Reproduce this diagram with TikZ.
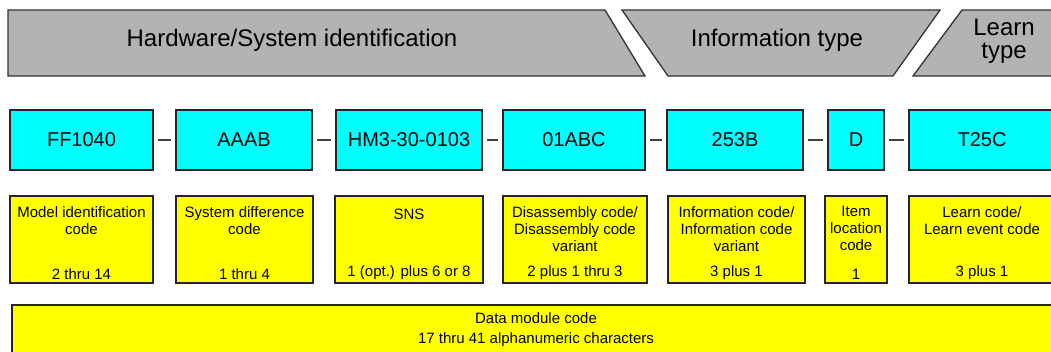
\documentclass[tikz,border=0pt]{standalone}
\usepackage{fontspec}
\setmainfont{Liberation Sans}
\usepackage{tikz}
\definecolor{codecyan}{RGB}{0,255,255}
\definecolor{fieldyellow}{RGB}{255,255,0}
\definecolor{bangray}{RGB}{179,179,179}

\begin{document}
\begin{tikzpicture}[x=1pt,y=-1pt,
  banner/.style={draw=black!80, fill=bangray, line width=1.3pt, line join=miter},
  bantext/.style={font=\fontsize{24}{23}\selectfont, align=center, inner sep=0pt},
  code/.style={draw=black!85, fill=codecyan, line width=1.5pt, minimum height=60pt,
               font=\fontsize{20}{22}\selectfont, inner sep=0pt},
  field/.style={draw=black!85, fill=fieldyellow, line width=1.5pt, minimum height=87pt, inner sep=0pt},
  ftop/.style={anchor=north, align=center, inner sep=11pt, font=\fontsize{15}{17}\selectfont},
  fbot/.style={anchor=south, inner sep=4pt, font=\fontsize{15}{17}\selectfont},
  sep/.style={draw=black!75, line width=1.3pt, shorten <=4pt, shorten >=4pt}
]
\useasboundingbox (0,0) rectangle (1051,351);

% banners
\draw[banner] (8,10) -- (605,10) -- (645,76) -- (8,76) -- cycle;
\draw[banner] (622,10) -- (940,10) -- (893,76) -- (668,76) -- cycle;
\draw[banner] (962,10) -- (1060,10) -- (1060,76) -- (913,76) -- cycle;
\node[bantext] (hwid)      at (292,40)  {Hardware/System identification};
\node[bantext] (infotype)  at (777,40)  {Information type};
\node[bantext] (learntype) at (1004,41) {Learn\\type};

% code parts
\node[code, minimum width=143pt] (ff)     at (81.5,140) {FF1040};
\node[code, minimum width=136pt] (aaab)   at (244,140)  {AAAB};
\node[code, minimum width=146pt] (hm)     at (409,140)  {HM3-30-0103};
\node[code, minimum width=142pt] (disasm) at (574,140)  {01ABC};
\node[code, minimum width=136pt] (info)   at (735,140)  {253B};
\node[code, minimum width=56pt]  (item)   at (856,140)  {D};
\node[code, minimum width=146pt] (learn)  at (982,140)  {T25C};

\draw[sep] (ff) -- (aaab);
\draw[sep] (aaab) -- (hm);
\draw[sep] (hm) -- (disasm);
\draw[sep] (disasm) -- (info);
\draw[sep] (info) -- (item);
\draw[sep] (item) -- (learn);

% field descriptions
\node[field, minimum width=143pt, label={[ftop]north:Model identification\\code},
      label={[fbot]south:2 thru 14}] (modelid) at (81.5,239.5) {};
\node[field, minimum width=137pt, label={[ftop]north:System difference\\code},
      label={[fbot]south:1 thru 4}] (sysdiff) at (244.5,239.5) {};
\node[field, minimum width=148pt, label={[ftop, yshift=-3pt]north:SNS},
      label={[fbot]south:1 (opt.) plus 6 or 8}] (sns) at (409,239.5) {};
\node[field, minimum width=144pt, label={[ftop]north:Disassembly code/\\Disassembly code\\variant},
      label={[fbot]south:2 plus 1 thru 3}] (disasmcode) at (575,239.5) {};
\node[field, minimum width=137pt, label={[ftop]north:Information code/\\Information code\\variant},
      label={[fbot]south:3 plus 1}] (infocode) at (736.5,239.5) {};
\node[field, minimum width=62pt, label={[ftop]north:Item\\location\\code},
      label={[fbot]south:1}] (itemloc) at (856,239.5) {};
\node[field, minimum width=146pt, label={[ftop]north:Learn code/\\Learn event code},
      label={[fbot]south:3 plus 1}] (learncode) at (982,239.5) {};

% whole code
\node[field, minimum width=1048pt, minimum height=50pt, align=center,
      font=\fontsize{15}{20}\selectfont] (dmc) at (536,330)
      {Data module code\\17 thru 41 alphanumeric characters};
\end{tikzpicture}
\end{document}
